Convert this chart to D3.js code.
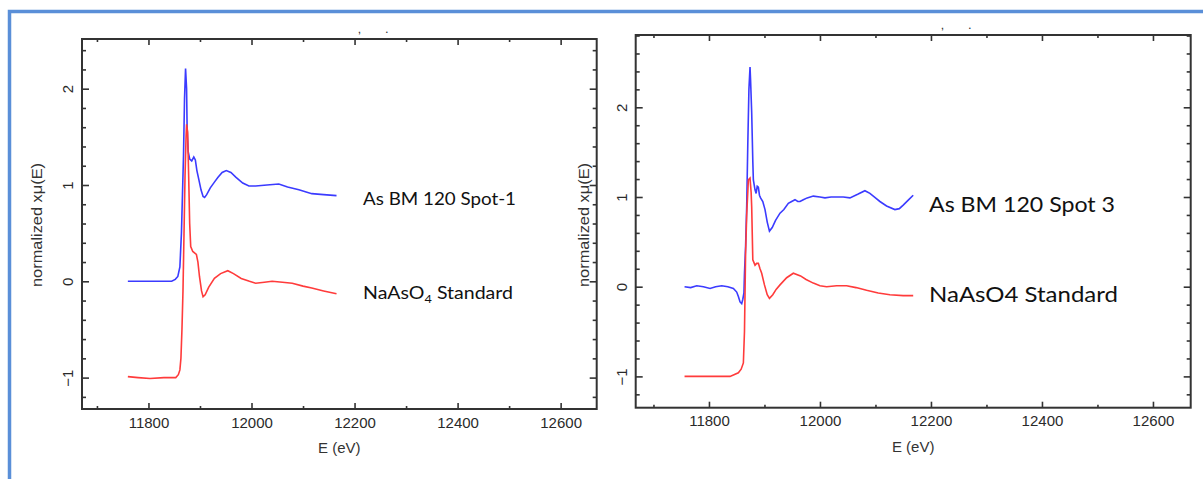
<!DOCTYPE html>
<html>
<head>
<meta charset="utf-8">
<script src="https://cdn.jsdelivr.net/npm/d3@7"></script>
<style>
  body { margin: 0; background: #fff; }
  svg { display: block; }
  .tick text { font-family: "Liberation Sans", Arial, sans-serif; font-size: 15px; fill: #2a2a2a; }
  .ttl { font-family: "Liberation Sans", Arial, sans-serif; fill: #333; }
  .lbl { font-family: Lato, "Open Sans", sans-serif; fill: #111; }
</style>
</head>
<body>
<script>
// energies (eV) and normalized mu(E)
let spot1E  = [11760,11800,11830,11845,11852,11857,11861,11864,11866,11868,11870,11872,11874,11875,11877,11880,11884,11888,11891,11894,11898,11902,11906,11909,11913,11920,11928,11935,11943,11951,11960,11970,11983,11995,12008,12030,12053,12070,12092,12117,12140,12165]
let spot1Mu = [0,0,0,0,0.02,0.05,0.15,0.5,0.9,1.3,1.9,2.21,2.0,1.6,1.35,1.27,1.25,1.29,1.26,1.15,1.05,0.95,0.88,0.87,0.9,0.97,1.03,1.08,1.13,1.15,1.13,1.08,1.02,0.99,0.99,1.0,1.01,0.98,0.95,0.91,0.9,0.89]

let std1E  = [11760,11780,11803,11830,11853,11858,11861,11863,11865,11867,11869,11871,11873,11874,11876,11878,11880,11882,11886,11893,11896,11899,11903,11906,11910,11917,11928,11940,11954,11965,11980,11996,12008,12025,12040,12060,12079,12100,12117,12140,12165]
let std1Mu = [-0.99,-1.0,-1.01,-1.0,-1.0,-0.97,-0.92,-0.8,-0.5,-0.1,0.5,1.1,1.5,1.63,1.55,1.1,0.6,0.36,0.31,0.28,0.2,0.05,-0.1,-0.16,-0.14,-0.06,0.03,0.08,0.11,0.08,0.03,0.0,-0.02,-0.01,0.0,-0.01,-0.02,-0.05,-0.07,-0.1,-0.13]

let spot3E  = [11756,11767,11778,11790,11802,11812,11823,11834,11844,11850,11853,11856,11859,11861,11863,11864,11866,11868,11870,11872,11874,11875,11877,11879,11880,11883,11885,11887,11889,11891,11893,11897,11901,11905,11909,11914,11920,11928,11935,11943,11949,11955,11960,11964,11970,11977,11988,12000,12009,12020,12030,12042,12054,12068,12081,12090,12100,12108,12120,12135,12143,12150,12160,12168]
let spot3Mu = [0,-0.01,0.01,0,-0.02,0,0.01,0,-0.02,-0.06,-0.11,-0.17,-0.19,-0.14,-0.07,0.15,0.45,0.9,1.6,2.2,2.45,2.3,1.94,1.4,1.19,1.08,1.04,1.12,1.11,1.02,0.99,0.95,0.86,0.72,0.62,0.66,0.74,0.82,0.86,0.93,0.95,0.97,0.95,0.95,0.97,0.99,1.01,1.0,0.99,1.0,1.0,1.0,0.99,1.03,1.07,1.04,0.99,0.95,0.9,0.86,0.87,0.91,0.97,1.02]

let std3E  = [11756,11800,11838,11853,11858,11862,11864,11866,11868,11871,11874,11876,11877,11879,11883,11886,11889,11892,11895,11900,11905,11909,11915,11921,11928,11940,11952,11965,11975,11988,12000,12012,12030,12048,12065,12084,12105,12126,12150,12168]
let std3Mu = [-1.0,-1.0,-1.0,-0.96,-0.92,-0.85,-0.5,0.37,0.8,1.19,1.21,1.05,0.89,0.3,0.24,0.26,0.26,0.2,0.15,0.02,-0.09,-0.13,-0.09,-0.03,0.02,0.1,0.15,0.12,0.08,0.04,0.01,0.0,0.01,0.01,-0.01,-0.04,-0.07,-0.09,-0.1,-0.1]

let xMajor = [11800, 12000, 12200, 12400, 12600]
let xMinor = [11700, 11900, 12100, 12300, 12500]
let yMajor = [-1, 0, 1, 2]
let yTitle = 'normalized  x\u03BC(E)'
let xTitle = 'E (eV)'

let width = 1203, height = 479

let svg = d3.select('body').append('svg')
  .attr('width', width)
  .attr('height', height)

// blue slide frame
svg.append('path')
  .attr('d', 'M9.5,479 V11.5 H1203')
  .attr('fill', 'none')
  .attr('stroke', '#5a8fd8')
  .attr('stroke-width', 3.5)

function panel(p) {
  let x = d3.scaleLinear().domain(p.xd).range([p.x0, p.x1])
  let y = d3.scaleLinear().domain(p.yd).range([p.y1, p.y0])
  let yMinor = d3.range(-1.2, p.yd[1], 0.2).map(v => +v.toFixed(1)).filter(v => !yMajor.includes(v))

  let g = svg.append('g')

  // axes on all four sides, ticks pointing in
  let ax = [
    [d3.axisBottom(x).tickValues(xMajor).tickSize(-6).tickPadding(8).tickFormat(d3.format('d')), `translate(0,${p.y1})`],
    [d3.axisBottom(x).tickValues(xMinor).tickSize(-3).tickFormat(''), `translate(0,${p.y1})`],
    [d3.axisTop(x).tickValues(xMajor).tickSize(-6).tickFormat(''), `translate(0,${p.y0})`],
    [d3.axisTop(x).tickValues(xMinor).tickSize(-3).tickFormat(''), `translate(0,${p.y0})`],
    [d3.axisLeft(y).tickValues(yMajor).tickSize(-7).tickFormat(d3.format('d')), `translate(${p.x0},0)`, 'y'],
    [d3.axisLeft(y).tickValues(yMinor).tickSize(-4).tickFormat(''), `translate(${p.x0},0)`],
    [d3.axisRight(y).tickValues(yMajor).tickSize(-7).tickFormat(''), `translate(${p.x1},0)`],
    [d3.axisRight(y).tickValues(yMinor).tickSize(-4).tickFormat(''), `translate(${p.x1},0)`]
  ]
  ax.forEach(a => {
    let s = g.append('g').attr('transform', a[1]).call(a[0])
    s.select('.domain').remove()
    s.selectAll('line').attr('stroke', '#333').attr('stroke-width', 1.6)
    if (a[2] === 'y') {
      s.selectAll('text')
        .attr('x', 0).attr('dy', 0)
        .attr('text-anchor', 'middle')
        .attr('transform', 'translate(-9,0) rotate(-90)')
        .text(d => d < 0 ? '\u2212' + Math.abs(d) : d)
    }
  })

  g.append('rect')
    .attr('x', p.x0).attr('y', p.y0)
    .attr('width', p.x1 - p.x0).attr('height', p.y1 - p.y0)
    .attr('fill', 'none').attr('stroke', '#333').attr('stroke-width', 2)

  let line = d3.line().x(d => x(d[0])).y(d => y(d[1]))
  g.append('path')
    .datum(p.blueE.map((e, i) => [e, p.blueMu[i]]))
    .attr('d', line).attr('fill', 'none')
    .attr('stroke', '#3b3bff').attr('stroke-width', 1.6)
  g.append('path')
    .datum(p.redE.map((e, i) => [e, p.redMu[i]]))
    .attr('d', line).attr('fill', 'none')
    .attr('stroke', '#ff3b3b').attr('stroke-width', 1.6)

  g.append('text').attr('class', 'ttl')
    .attr('font-size', 14)
    .attr('text-anchor', 'middle')
    .attr('textLength', 124).attr('lengthAdjust', 'spacingAndGlyphs')
    .attr('transform', `translate(${p.ytx},${p.yty}) rotate(-90)`)
    .text(yTitle)
  g.append('text').attr('class', 'ttl')
    .attr('font-size', 15)
    .attr('text-anchor', 'middle')
    .attr('x', (p.x0 + p.x1) / 2).attr('y', p.xty)
    .text(xTitle)

  // leftovers of a cropped title
  g.append('text').attr('class', 'ttl').attr('font-size', 13)
    .attr('x', p.frag).attr('y', p.y0 - 6).text('\u201A')
  g.append('text').attr('class', 'ttl').attr('font-size', 13)
    .attr('x', p.frag + 27).attr('y', p.y0 - 6).text('.')

  g.append('text').attr('class', 'lbl')
    .attr('x', p.lx).attr('y', p.ly1).attr('font-size', p.fs)
    .attr('textLength', p.w1).attr('lengthAdjust', 'spacingAndGlyphs')
    .text(p.name)
  let t2 = g.append('text').attr('class', 'lbl')
    .attr('x', p.lx).attr('y', p.ly2).attr('font-size', p.fs)
  if (p.sub) {
    t2.append('tspan').text('NaAsO')
    t2.append('tspan').attr('dy', 4).attr('font-size', p.fs * 0.65).text('4')
    t2.append('tspan').attr('dy', -4).text(' Standard')
  } else {
    t2.text('NaAsO4 Standard')
  }
  t2.attr('textLength', p.w2).attr('lengthAdjust', 'spacingAndGlyphs')
}

panel({
  x0: 82, x1: 596.7, y0: 39, y1: 409,
  xd: [11671, 12670], yd: [-1.326, 2.516],
  blueE: spot1E, blueMu: spot1Mu, redE: std1E, redMu: std1Mu,
  ytx: 42, yty: 225, xty: 453, frag: 358,
  name: 'As BM 120 Spot-1', sub: true,
  lx: 363, ly1: 205, ly2: 299, fs: 17, w1: 153, w2: 150
})

panel({
  x0: 635.7, x1: 1190.7, y0: 35, y1: 407.7,
  xd: [11668, 12668], yd: [-1.349, 2.806],
  blueE: spot3E, blueMu: spot3Mu, redE: std3E, redMu: std3Mu,
  ytx: 589, yty: 225, xty: 452, frag: 941,
  name: 'As BM 120 Spot 3', sub: false,
  lx: 929, ly1: 212, ly2: 302, fs: 22, w1: 186, w2: 189
})
</script>
</body>
</html>
